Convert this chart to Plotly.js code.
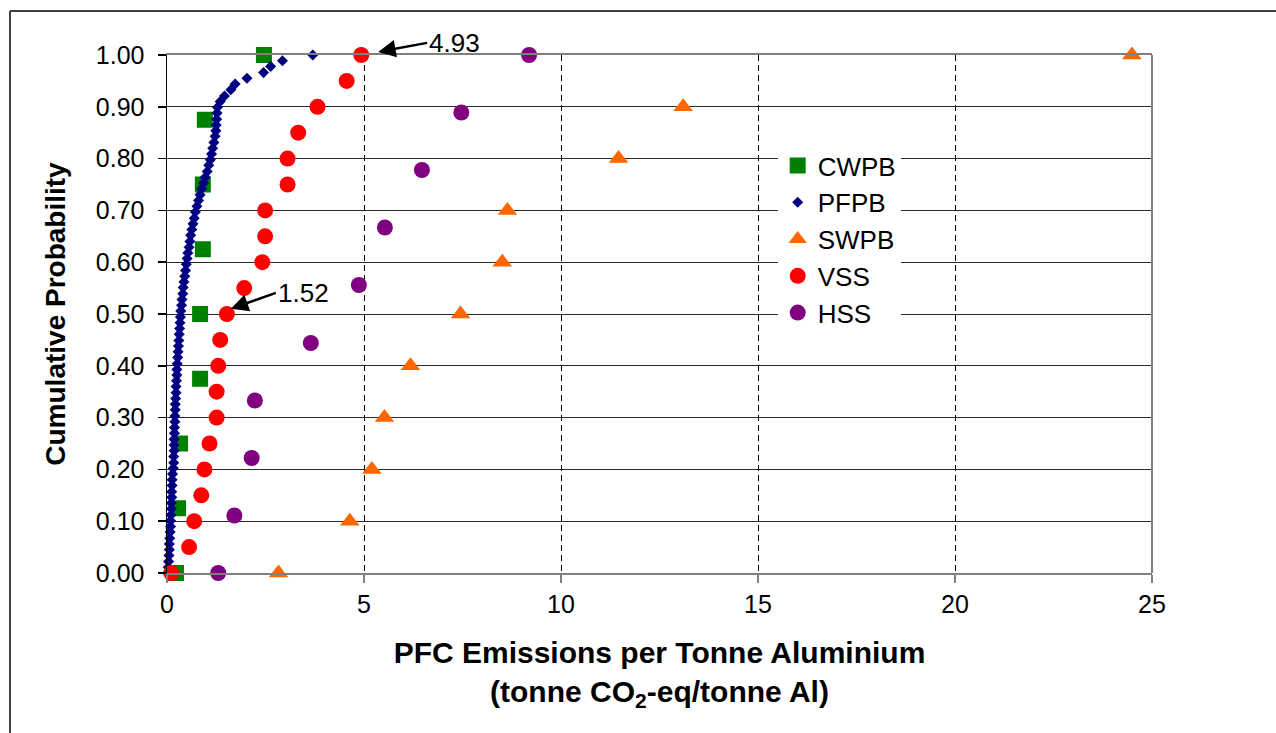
<!DOCTYPE html>
<html><head><meta charset="utf-8">
<script src="https://cdn.plot.ly/plotly-3.0.1.min.js"></script>
<style>html,body{margin:0;padding:0;background:#fff;} #chart{width:1276px;height:733px;}</style>
</head><body><div id="chart"></div>
<script>
const seriesNames = ['CWPB', 'PFPB', 'SWPB', 'VSS', 'HSS'];

const cwpbX = [0.23, 0.28, 0.33, 0.84, 0.84, 0.91, 0.91, 0.96, 2.46];
const cwpbY = [0.000, 0.125, 0.250, 0.375, 0.500, 0.625, 0.750, 0.875, 1.000];

const pfpbX = [0.01, 0.03, 0.04, 0.05, 0.06, 0.06, 0.07, 0.08, 0.09, 0.09,
               0.10, 0.11, 0.11, 0.12, 0.12, 0.13, 0.13, 0.14, 0.16, 0.17,
               0.17, 0.18, 0.18, 0.18, 0.19, 0.19, 0.20, 0.20, 0.21, 0.21,
               0.22, 0.23, 0.23, 0.24, 0.25, 0.25, 0.26, 0.27, 0.28, 0.29,
               0.30, 0.31, 0.32, 0.33, 0.34, 0.35, 0.37, 0.38, 0.40, 0.41,
               0.43, 0.45, 0.47, 0.49, 0.51, 0.53, 0.56, 0.58, 0.60, 0.63,
               0.66, 0.69, 0.72, 0.76, 0.80, 0.84, 0.88, 0.93, 0.97, 1.02,
               1.06, 1.10, 1.13, 1.16, 1.19, 1.22, 1.24, 1.25, 1.26, 1.27,
               1.28, 1.35, 1.46, 1.62, 1.73, 2.03, 2.45, 2.63, 2.93, 3.70];
const pfpbY = [0.000, 0.011, 0.022, 0.034, 0.045, 0.056, 0.067, 0.079, 0.090, 0.101,
               0.112, 0.124, 0.135, 0.146, 0.157, 0.169, 0.180, 0.191, 0.202, 0.213,
               0.225, 0.236, 0.247, 0.258, 0.270, 0.281, 0.292, 0.303, 0.315, 0.326,
               0.337, 0.348, 0.360, 0.371, 0.382, 0.393, 0.404, 0.416, 0.427, 0.438,
               0.449, 0.461, 0.472, 0.483, 0.494, 0.506, 0.517, 0.528, 0.539, 0.551,
               0.562, 0.573, 0.584, 0.596, 0.607, 0.618, 0.629, 0.640, 0.652, 0.663,
               0.674, 0.685, 0.697, 0.708, 0.719, 0.730, 0.742, 0.753, 0.764, 0.775,
               0.787, 0.798, 0.809, 0.820, 0.831, 0.843, 0.854, 0.865, 0.876, 0.888,
               0.899, 0.910, 0.921, 0.933, 0.944, 0.955, 0.966, 0.978, 0.989, 1.000];

const swpbX = [2.83, 4.64, 5.20, 5.52, 6.18, 7.45, 8.51, 8.64, 11.46, 13.10, 24.49];
const swpbY = [0.0, 0.1, 0.2, 0.3, 0.4, 0.5, 0.6, 0.7, 0.8, 0.9, 1.0];

const vssX = [0.11, 0.56, 0.69, 0.87, 0.95, 1.08, 1.26, 1.26, 1.30, 1.35, 1.52,
              1.96, 2.42, 2.49, 2.49, 3.06, 3.06, 3.33, 3.82, 4.56, 4.93];
const vssY = [0.00, 0.05, 0.10, 0.15, 0.20, 0.25, 0.30, 0.35, 0.40, 0.45, 0.50,
              0.55, 0.60, 0.65, 0.70, 0.75, 0.80, 0.85, 0.90, 0.95, 1.00];

const hssX = [1.30, 1.71, 2.15, 2.23, 3.65, 4.87, 5.53, 6.47, 7.47, 9.19];
const hssY = [0.000, 0.111, 0.222, 0.333, 0.444, 0.556, 0.667, 0.778, 0.889, 1.000];

const xTickVals = [0, 5, 10, 15, 20, 25];
const yTickVals = [0, 0.1, 0.2, 0.3, 0.4, 0.5, 0.6, 0.7, 0.8, 0.9, 1.0];

const FONT = 'Liberation Sans, Arial, sans-serif';

function mk(name, xs, ys, symbol, size, color) {
  return {
    type: 'scatter', mode: 'markers', name: name, x: xs, y: ys,
    cliponaxis: false, hoverinfo: 'x+y+name',
    marker: {symbol: symbol, size: size, color: color, line: {width: 0}}
  };
}

const data = [
  mk(seriesNames[0], cwpbX, cwpbY, 'square', 16, '#008000'),
  mk(seriesNames[1], pfpbX, pfpbY, 'diamond', 8.5, '#000080'),
  mk(seriesNames[2], swpbX, swpbY, 'triangle-up', 17, '#FF6600'),
  mk(seriesNames[3], vssX, vssY, 'circle', 16, '#FF0000'),
  mk(seriesNames[4], hssX, hssY, 'circle', 16, '#800080')
];

const layout = {
  width: 1276, height: 733,
  paper_bgcolor: '#ffffff', plot_bgcolor: '#ffffff',
  margin: {l: 167, r: 124, t: 55, b: 160},
  font: {family: FONT, color: '#000', size: 25},
  showlegend: true,
  legend: {
    x: 0.62, y: 0.832, xanchor: 'left', yanchor: 'top',
    bgcolor: '#ffffff', borderwidth: 0,
    font: {family: FONT, size: 26, color: '#000'}
  },
  xaxis: {
    range: [0, 25], tickvals: xTickVals, ticktext: xTickVals.map(String),
    showgrid: true, gridcolor: '#000', gridwidth: 1, griddash: '6px,4px',
    zeroline: false, showline: true, linecolor: '#7f7f7f', linewidth: 2, mirror: true,
    ticks: 'outside', ticklen: 8, tickcolor: '#7f7f7f', tickwidth: 1.5,
    tickfont: {family: FONT, size: 25, color: '#000'},
    title: {
      text: 'PFC Emissions per Tonne Aluminium<br>(tonne CO<sub>2</sub>-eq/tonne Al)',
      font: {family: FONT, size: 30, color: '#000', weight: 'bold'},
      standoff: 25
    }
  },
  yaxis: {
    range: [0, 1], tickvals: yTickVals, tickformat: '.2f',
    showgrid: true, gridcolor: '#2a2a2a', gridwidth: 1,
    zeroline: false, showline: true, linecolor: '#000', linewidth: 1.5, mirror: false,
    ticks: 'outside', ticklen: 8, tickcolor: '#000', tickwidth: 1.5,
    ticklabelstandoff: 8,
    tickfont: {family: FONT, size: 25, color: '#000'},
    title: {
      text: 'Cumulative Probability',
      font: {family: FONT, size: 28, color: '#000', weight: 'bold'},
      standoff: 22
    }
  },
  shapes: [
    {type: 'line', xref: 'paper', yref: 'paper', x0: 1, x1: 1, y0: 0, y1: 1,
     line: {color: '#7f7f7f', width: 2}},
    {type: 'line', xref: 'paper', yref: 'paper', x0: -0.1594, x1: -0.1594, y0: -0.4, y1: 1.085,
     line: {color: '#404040', width: 2}},
    {type: 'line', xref: 'paper', yref: 'paper', x0: -0.1594, x1: 1.2, y0: 1.085, y1: 1.085,
     line: {color: '#404040', width: 2}}
  ],
  annotations: [
    {x: 5.36, y: 1.006, xref: 'x', yref: 'paper', text: '4.93', showarrow: true,
     ax: 49, ay: -9, xanchor: 'left', yanchor: 'middle',
     arrowhead: 2, arrowsize: 1.4, arrowwidth: 2.5, arrowcolor: '#000',
     font: {family: FONT, size: 26, color: '#000'}},
    {x: 1.62, y: 0.510, xref: 'x', yref: 'paper', text: '1.52', showarrow: true,
     ax: 45, ay: -16, xanchor: 'left', yanchor: 'middle',
     arrowhead: 2, arrowsize: 1.4, arrowwidth: 2.5, arrowcolor: '#000',
     font: {family: FONT, size: 26, color: '#000'}}
  ]
};

Plotly.newPlot('chart', data, layout, {displayModeBar: false, staticPlot: true});
</script>
</body></html>
